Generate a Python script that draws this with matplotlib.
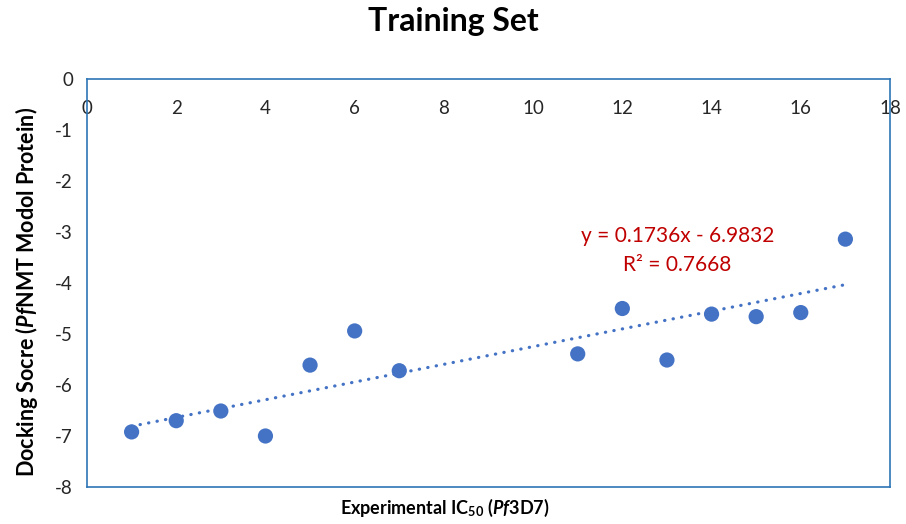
import matplotlib.pyplot as plt
import numpy as np

plt.rcParams['font.family'] = ['Lato', 'DejaVu Sans']
plt.rcParams['axes.unicode_minus'] = False
plt.rcParams['mathtext.fontset'] = 'custom'
plt.rcParams['mathtext.rm'] = 'Lato'
plt.rcParams['mathtext.it'] = 'Lato:italic'
plt.rcParams['mathtext.bf'] = 'Lato:bold'
plt.rcParams['mathtext.bfit'] = 'Lato:bold:italic'

# Dados do conjunto de treino
ic50 = [1, 2, 3, 4, 5, 6, 7, 11, 12, 13, 14, 15, 16, 17]
docking = [-6.92, -6.70, -6.51, -7.00, -5.61, -4.94, -5.72,
           -5.39, -4.50, -5.51, -4.61, -4.66, -4.58, -3.14]

# Linha de tendência (regressão linear)
slope = 0.1736
intercept = -6.9832
r2 = 0.7668

azul = '#4472C4'
borda = '#2E75B6'
vermelho = '#C00000'

fig = plt.figure(figsize=(9.06, 5.24), dpi=100)
ax = fig.add_axes([87 / 906, 1 - 487 / 524, (890 - 87) / 906, (487 - 79) / 524])

xt = np.array([min(ic50), max(ic50)])
ax.plot(xt, slope * xt + intercept, color=azul, linewidth=2.3,
        linestyle=(0, (0.1, 2.6)), dash_capstyle='round', zorder=2)
ax.scatter(ic50, docking, s=120, color=azul, edgecolors='none', zorder=3)

ax.set_xlim(0, 18)
ax.set_ylim(-8, 0)
ax.set_xticks(range(0, 19, 2))
ax.set_yticks(range(-8, 1))

# Eixo x no topo, rótulos dentro da área do gráfico
ax.tick_params(axis='x', top=True, labeltop=True, bottom=False, labelbottom=False,
               length=0, pad=-27, labelsize=13.5, labelcolor='#262626')
ax.tick_params(axis='y', length=0, pad=10, labelsize=13.5, labelcolor='#262626')

for s in ax.spines.values():
    s.set_color(borda)
    s.set_linewidth(1.2)

ax.text(13.23, -3.08, f'y = {slope}x - {abs(intercept)}', color=vermelho,
        fontsize=15, ha='center', va='center')
ax.text(13.23, -3.65, f'R² = {r2}', color=vermelho,
        fontsize=15, ha='center', va='center')

fig.text(453 / 906, 1 - 22 / 524, 'Training Set', fontsize=23, fontweight='bold',
         ha='center', va='center')
fig.text(445 / 906, 1 - 508 / 524, r'Experimental IC$_{\mathbf{50}}$ ($\mathbfit{Pf}$3D7)',
         fontsize=13, fontweight='bold', ha='center', va='center')
fig.text(27 / 906, 1 - 292 / 524, r'Docking Socre ($\mathbfit{Pf}$NMT Modol Protein)',
         fontsize=15.5, fontweight='bold', ha='center', va='center', rotation=90)

fig.savefig('out.png', dpi=100)
